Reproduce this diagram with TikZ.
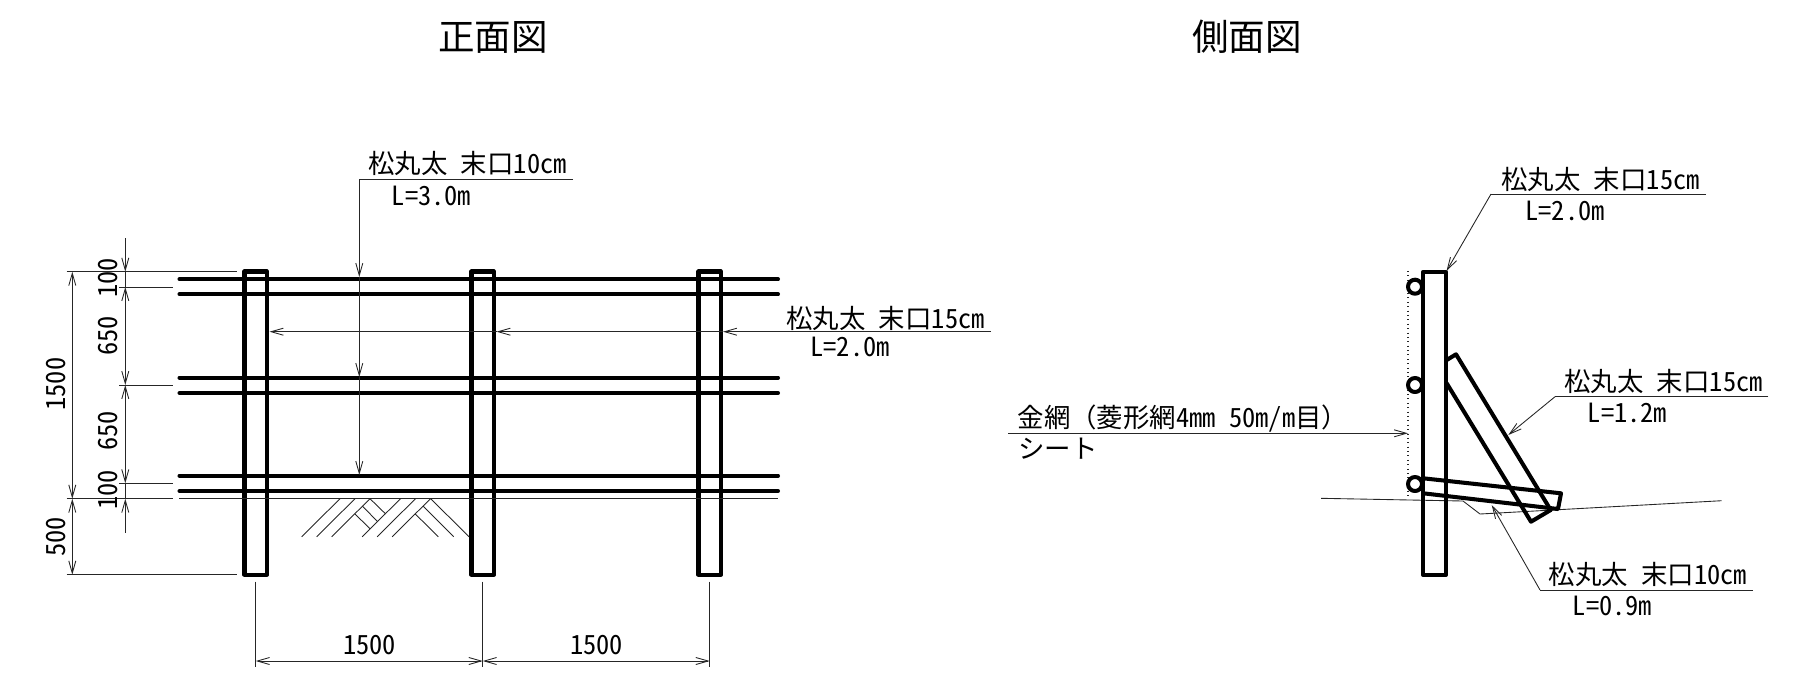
\documentclass[tikz,border=0pt]{standalone}
\usepackage{fontspec}
\setmainfont[RawFeature={+hwid}]{Noto Sans CJK JP}
\newfontfamily\fullw{Noto Sans CJK JP}
\usetikzlibrary{arrows.meta}

\tikzset{
    timber/.style={line width=2.3pt, line cap=round, line join=round},
    thin line/.style={line width=0.5pt, black!85},
    dimtip/.style={thin line, {Straight Barb[length=7pt, width=4pt]}-{Straight Barb[length=7pt, width=4pt]}},
    tipend/.style={thin line, -{Straight Barb[length=7pt, width=4pt]}},
    tipstart/.style={thin line, {Straight Barb[length=7pt, width=4pt]}-},
    lbl/.style={inner sep=0pt, anchor=base west, font=\fontsize{15.05pt}{15pt}\selectfont},
    dimlbl/.style={inner sep=0pt, font=\fontsize{15.05pt}{15pt}\selectfont},
    title/.style={inner sep=0pt, font=\fontsize{20.8pt}{21pt}\selectfont}
}

\begin{document}
\begin{tikzpicture}[x=0.02cm, y=-0.02cm]
    \useasboundingbox (0,0) rectangle (1801,674);

    % Titles
    \node[title] (frontT) at (493,37) {正面図};
    \node[title] (sideT) at (1247,37) {側面図};

    % Front view: rails
    \foreach \ry in {279.3,294.3,377.7,393,475.7,491}
        \draw[timber] (179.5,\ry) -- (778,\ry);
    % Front view: posts
    \foreach \px in {255.7,482.7,709.7}
        \draw[timber] (\px-11.2,271.5) rectangle (\px+11.2,574.7);
    % Front view: ground and hatching
    \draw[thin line] (179,498.7) -- (778,498.7);
    \foreach \hx in {0,15,30,60.5,75.5,90.5}
        \draw[thin line] (301.7+\hx,536.7) -- (340+\hx,498.7);
    \draw[thin line] (370,498.7) -- (385.7,514);
    \draw[thin line] (362.3,506) -- (377.7,521.7);
    \draw[thin line] (355,514) -- (370,528.7);
    \draw[thin line] (430.7,498.7) -- (469,536.7);
    \draw[thin line] (423,506) -- (453.7,536.7);
    \draw[thin line] (415.3,514) -- (438.3,536.7);

    % Left dimensions
    \draw[thin line] (66.7,271.7) -- (237,271.7);
    \draw[thin line] (119,287) -- (173,287);
    \draw[thin line] (119,385) -- (173,385);
    \draw[thin line] (119,483.3) -- (173,483.3);
    \draw[thin line] (66.7,498.7) -- (173,498.7);
    \draw[thin line] (66.7,574.7) -- (237,574.7);
    \draw[dimtip] (72.3,271.7) -- (72.3,498.7);
    \draw[dimtip] (72.3,498.7) -- (72.3,574.7);
    \draw[tipend] (125.3,238) -- (125.3,271.7);
    \draw[thin line] (125.3,271.7) -- (125.3,287);
    \draw[dimtip] (125.3,287) -- (125.3,385);
    \draw[dimtip] (125.3,385) -- (125.3,483.3);
    \draw[thin line] (125.3,483.3) -- (125.3,498.7);
    \draw[tipstart] (125.3,498.7) -- (125.3,532.7);
    \node[dimlbl, rotate=90] (dimA) at (108.5,278) {100};
    \node[dimlbl, rotate=90] (dimB) at (108.5,336) {650};
    \node[dimlbl, rotate=90] (dimC) at (108.5,431) {650};
    \node[dimlbl, rotate=90] (dimD) at (108.5,490) {100};
    \node[dimlbl, rotate=90] (dimE) at (56.5,384) {1500};
    \node[dimlbl, rotate=90] (dimF) at (56.5,537) {500};

    % Bottom dimensions
    \foreach \px in {255.7,482.7,709.7}
        \draw[thin line] (\px,581.7) -- (\px,667);
    \draw[dimtip] (255.7,661) -- (482.7,661);
    \draw[dimtip] (482.7,661) -- (709.7,661);
    \node[dimlbl] (dimG) at (369.5,645) {1500};
    \node[dimlbl] (dimH) at (596.5,645) {1500};

    % Front view: leaders
    \node[lbl] (pineA) at (368,173) {松丸太 末口10cm};
    \node[lbl] (lenA) at (391.5,205) {L=3.0m};
    \draw[thin line] (573,179.3) -- (359.3,179.3);
    \draw[tipend] (359.3,179.3) -- (359.3,277);
    \draw[tipend] (359.3,277) -- (359.3,377);
    \draw[tipend] (359.3,377) -- (359.3,475);
    \node[lbl] (pineB) at (786,328) {松丸太 末口15cm};
    \node[lbl] (lenB) at (810,356.7) {L=2.0m};
    \draw[tipend] (991,331.7) -- (723,331.7);
    \draw[tipend] (723,331.7) -- (496.5,331.7);
    \draw[tipend] (496.5,331.7) -- (269.5,331.7);

    % Side view: post, rails, ground
    \draw[thin line, dotted, line width=1pt] (1408.3,271) -- (1408.3,498.3);
    \draw[thin line] (1321,498.3) -- (1463,501) -- (1480,514) -- (1721.7,500.7);
    \draw[timber] (1423.3,271.7) rectangle (1446,575);
    \foreach \cy in {286.7,385,484}
        \draw[timber, fill=white] (1415,\cy) circle (7);
    % Side view: struts
    \draw[timber] (1446.7,360) -- (1456,354.3) -- (1550.7,510) -- (1531,521.7) -- (1446.7,383.3);
    \draw[timber] (1423.3,478.3) -- (1561,493.3) -- (1558,509) -- (1423.3,493.3);

    % Side view: leaders
    \node[lbl] (pineC) at (1501,189.5) {松丸太 末口15cm};
    \node[lbl] (lenC) at (1525,220) {L=2.0m};
    \draw[thin line] (1706,194) -- (1491,194);
    \draw[tipend] (1491,194) -- (1446.5,271);
    \node[lbl] (pineD) at (1564,391.7) {松丸太 末口15cm};
    \node[lbl] (lenD) at (1587.5,422) {L=1.2m};
    \draw[thin line] (1768.3,396.7) -- (1555,396.7);
    \draw[tipend] (1555,396.7) -- (1508.3,435);
    \node[lbl] (pineE) at (1548.3,584) {松丸太 末口10cm};
    \node[lbl] (lenE) at (1572.5,615.7) {L=0.9m};
    \draw[thin line] (1753,590) -- (1540,590);
    \draw[tipend] (1540,590) -- (1491.7,505);
    \node[lbl] (net) at (1017.3,427.7) {金網{\fullw （}菱形網4mm 50m/m目{\fullw ）}};
    \node[lbl] (sheet) at (1018,458) {シート};
    \draw[tipend] (1008.3,433.3) -- (1408,433.3);
\end{tikzpicture}
\end{document}
